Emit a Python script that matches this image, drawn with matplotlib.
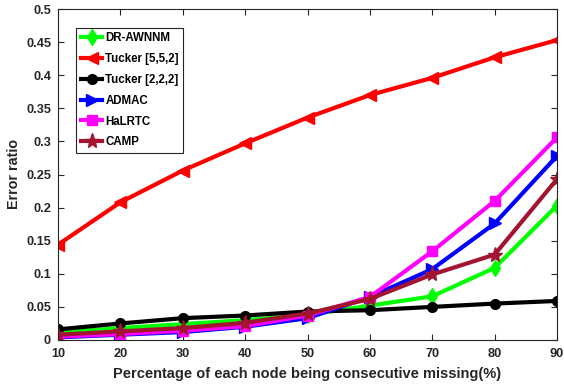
import matplotlib
matplotlib.use("Agg")
import matplotlib.pyplot as plt

x = [10, 20, 30, 40, 50, 60, 70, 80, 90]
dr_awnnm = [0.011, 0.018, 0.024, 0.030, 0.038, 0.052, 0.066, 0.109, 0.203]
tucker552 = [0.144, 0.208, 0.256, 0.297, 0.336, 0.370, 0.396, 0.427, 0.453]
tucker222 = [0.016, 0.025, 0.033, 0.037, 0.043, 0.045, 0.050, 0.055, 0.059]
admac = [0.004, 0.008, 0.012, 0.020, 0.033, 0.065, 0.107, 0.176, 0.278]
halrtc = [0.005, 0.009, 0.014, 0.021, 0.037, 0.065, 0.134, 0.210, 0.306]
camp = [0.008, 0.013, 0.018, 0.026, 0.040, 0.062, 0.099, 0.129, 0.243]

plt.rcParams['font.family'] = ['Liberation Sans', 'DejaVu Sans']
plt.rcParams['font.weight'] = 'bold'
TXT = '#262626'

W, H = 564, 386
fig = plt.figure(figsize=(W/100, H/100), dpi=100)
L, R, T, B = 58, 557, 9, 340
ax = fig.add_axes([L/W, 1-B/H, (R-L)/W, (B-T)/H])

series = [
    ("DR-AWNNM", dr_awnnm, "#00FF00", "d", 8),
    ("Tucker [5,5,2]", tucker552, "#FF0000", "<", 8),
    ("Tucker [2,2,2]", tucker222, "#000000", "o", 7),
    ("ADMAC", admac, "#0000FF", ">", 8),
    ("HaLRTC", halrtc, "#FF00FF", "s", 7),
    ("CAMP", camp, "#A2142F", "*", 11),
]
for name, y, c, m, ms in series:
    ax.plot(x, y, color=c, marker=m, markersize=ms, linewidth=3, label=name)

ax.set_xlim(10, 90)
ax.set_ylim(0, 0.5)
ax.set_xticks(x)
ax.set_yticks([0, 0.05, 0.1, 0.15, 0.2, 0.25, 0.3, 0.35, 0.4, 0.45, 0.5])
ax.set_yticklabels(["0", "0.05", "0.1", "0.15", "0.2", "0.25", "0.3", "0.35", "0.4", "0.45", "0.5"])
ax.tick_params(direction='in', top=True, right=True, labelsize=9.2, length=4, color=TXT,
               labelcolor=TXT)
ax.tick_params(axis='x', pad=6)
ax.tick_params(axis='y', pad=5)
for s in ax.spines.values():
    s.set_color(TXT)
    s.set_linewidth(0.8)
ax.set_xlabel("Percentage of each node being consecutive missing(%)", fontsize=10.5,
              fontweight='bold', color=TXT, labelpad=5)
fig.text(14/W, 1-174/H, "Error ratio", rotation=90, ha='center', va='center',
         fontsize=10.3, fontweight='bold', color=TXT)
leg = ax.legend(loc='upper left', bbox_to_anchor=(0.036, 0.943), fontsize=8.3, handlelength=1.9,
                fancybox=False, edgecolor=TXT, framealpha=1, borderpad=0.4, labelspacing=0.76,
                handletextpad=0.25, borderaxespad=0)
leg.get_frame().set_linewidth(0.8)
fig.savefig("out.png", dpi=100)
